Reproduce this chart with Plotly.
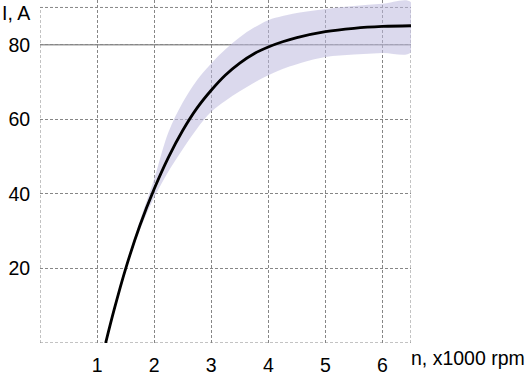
import plotly.graph_objects as go

# Data
speed = [1.15, 1.3, 1.5, 1.75, 2.0, 2.25, 2.5, 2.75, 3.0, 3.25, 3.5, 3.75, 4.0, 4.25, 4.5, 5.0, 5.5, 6.0, 6.5]  # n, x1000 rpm
current = [0, 9, 19.9, 31.5, 41.3, 49.8, 57, 63, 67.8, 71.9, 75.1, 77.6, 79.4, 80.8, 81.9, 83.5, 84.4, 84.9, 85.1]  # I, A
upper = [0, 9.2, 20.4, 32.8, 44, 56.5, 64.5, 70.5, 75, 78.8, 82, 84.6, 86.6, 87.7, 88.5, 89.6, 90.4, 91, 91.4]
lower = [0, 8.8, 19.4, 30.3, 39, 46, 52, 57.5, 62, 65, 67.5, 69.8, 71.8, 73.5, 74.8, 76.7, 77.4, 77.8, 78]

x_ticks = [1, 2, 3, 4, 5, 6]
y_ticks = [20, 40, 60, 80]
x_max = 6.5
y_top = 90

FONT = "Liberation Sans, Arial, sans-serif"
GRID = "#868686"

fig = go.Figure()

fig.add_trace(go.Scatter(
    x=speed + speed[::-1], y=upper + lower[::-1],
    fill="toself", fillcolor="rgba(190,185,222,0.55)",
    line=dict(width=0, shape="spline"), mode="lines",
    hoverinfo="skip", showlegend=False,
))
fig.add_trace(go.Scatter(
    x=speed, y=current, mode="lines",
    line=dict(color="black", width=2.8, shape="spline"),
    showlegend=False,
))

# plot frame (dashed) and solid 80 A reference line
dash = dict(color=GRID, width=1, dash="3px,2px")
for (x0, y0, x1, y1) in [(0, 0, x_max, 0), (0, y_top, x_max, y_top),
                         (0, 0, 0, y_top), (x_max, 0, x_max, y_top)]:
    fig.add_shape(type="line", xref="x", yref="y", x0=x0, y0=y0, x1=x1, y1=y1,
                  line=dash, layer="below")
fig.add_shape(type="line", xref="x", yref="y", x0=0, x1=x_max, y0=80, y1=80,
              line=dict(color="#9a9a9a", width=1.6), layer="below")

fig.update_xaxes(
    range=[0, x_max], tickvals=x_ticks, showgrid=True, gridcolor=GRID,
    griddash="3px,2px", gridwidth=1, zeroline=False, showline=False,
    ticks="outside", ticklen=5, tickcolor="rgba(0,0,0,0)",
    tickfont=dict(family=FONT, size=19.5, color="black"),
)
fig.update_yaxes(
    range=[0, 92], tickvals=y_ticks, showgrid=True, gridcolor=GRID,
    griddash="3px,2px", gridwidth=1, zeroline=False, showline=False,
    ticks="outside", ticklen=5, tickcolor="rgba(0,0,0,0)",
    tickfont=dict(family=FONT, size=19.5, color="black"),
)

fig.add_annotation(text="I, A", xref="paper", yref="paper", x=-0.108, y=1.0,
                   xanchor="left", yanchor="top", showarrow=False,
                   font=dict(family=FONT, size=19.5, color="black"))
fig.add_annotation(text="n, x1000 rpm", xref="paper", yref="paper", x=0.995, y=-0.045,
                   xanchor="left", yanchor="middle", showarrow=False,
                   font=dict(family=FONT, size=19.5, color="black"))

fig.update_layout(
    width=527, height=376,
    margin=dict(l=40, r=116, t=0, b=27),
    paper_bgcolor="white", plot_bgcolor="white",
)

fig.write_html("out.html")
